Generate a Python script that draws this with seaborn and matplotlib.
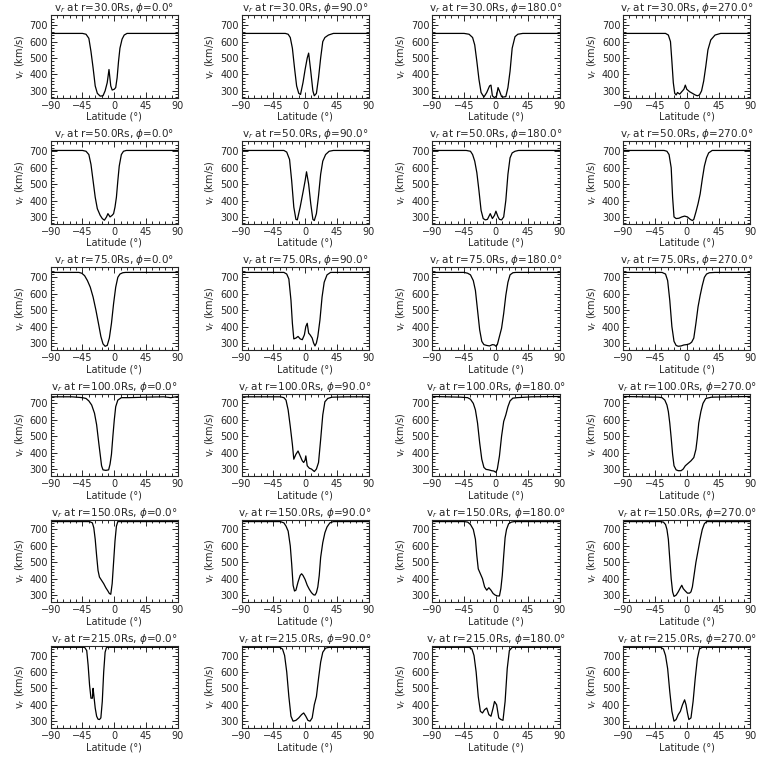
import matplotlib
matplotlib.use("Agg")
import matplotlib.pyplot as plt
import seaborn as sns
from matplotlib.ticker import MultipleLocator

# radial distances (rows) and longitudes (columns)
radii = [30.0, 50.0, 75.0, 100.0, 150.0, 215.0]
phis = [0.0, 90.0, 180.0, 270.0]

# r = 30 Rs
lat_r30_p0 = [-90, -45, -40, -36, -33, -30, -27, -24, -20, -16, -13, -10, -7.5, -5, -3, 0, 2, 4, 6, 8, 11, 14, 18, 90]
v_r30_p0 = [650, 650, 645, 620, 540, 440, 330, 285, 268, 270, 300, 350, 430, 330, 305, 310, 320, 380, 480, 560, 615, 640, 650, 650]
lat_r30_p90 = [-90, -28, -24, -21, -18, -15, -12, -9, -6.5, -3, 0, 3, 5, 8, 11, 13, 16, 19, 22, 25, 28, 33, 40, 90]
v_r30_p90 = [650, 650, 645, 625, 560, 440, 330, 285, 278, 350, 430, 500, 530, 420, 300, 270, 285, 380, 500, 600, 625, 640, 650, 650]
lat_r30_p180 = [-90, -45, -38, -33, -30, -27, -24, -21, -17, -13, -9, -7, -5, -2, 1, 3, 5, 8, 10, 14, 17, 20, 23, 27, 31, 38, 90]
v_r30_p180 = [650, 650, 645, 625, 580, 480, 370, 290, 262, 290, 330, 335, 270, 258, 270, 320, 300, 265, 262, 265, 320, 420, 560, 630, 645, 650, 650]
lat_r30_p270 = [-90, -30, -26, -23, -21, -19, -17, -15, -13, -10, -7, -4, -2, 0, 4, 8, 12, 15, 18, 21, 24, 27, 30, 34, 40, 48, 90]
v_r30_p270 = [650, 650, 640, 600, 480, 350, 285, 275, 290, 280, 295, 310, 335, 310, 295, 285, 275, 270, 275, 300, 360, 450, 550, 610, 640, 650, 650]

# r = 50 Rs
lat_r50_p0 = [-90, -45, -40, -36, -33, -30, -27, -24, -20, -17, -14, -11, -9, -6, -3, -1, 1, 3, 5, 7, 10, 13, 17, 90]
v_r50_p0 = [705, 705, 700, 680, 620, 520, 420, 350, 310, 290, 280, 300, 320, 300, 310, 320, 360, 420, 520, 610, 680, 700, 705, 705]
lat_r50_p90 = [-90, -30, -26, -22, -19, -16, -13, -11, -7, -3, 0, 2, 5, 8, 11, 13, 16, 19, 22, 25, 29, 34, 40, 90]
v_r50_p90 = [705, 705, 695, 650, 520, 360, 285, 282, 360, 450, 520, 575, 500, 380, 285, 278, 320, 430, 560, 640, 680, 700, 705, 705]
lat_r50_p180 = [-90, -42, -36, -33, -30, -27, -24, -21, -18, -15, -12, -8, -5, -2, 0, 3, 5, 8, 11, 14, 17, 20, 23, 27, 32, 90]
v_r50_p180 = [705, 705, 700, 680, 640, 570, 460, 340, 290, 282, 285, 320, 290, 310, 335, 300, 285, 282, 300, 400, 560, 660, 690, 700, 705, 705]
lat_r50_p270 = [-90, -32, -28, -25, -22, -20, -18, -15, -11, -7, -3, 1, 5, 8, 10, 13, 16, 19, 22, 25, 28, 31, 36, 90]
v_r50_p270 = [705, 705, 700, 680, 600, 420, 300, 290, 292, 300, 305, 300, 285, 278, 285, 330, 380, 440, 530, 610, 660, 690, 705, 705]

# r = 75 Rs
lat_r75_p0 = [-90, -50, -46, -42, -38, -34, -30, -26, -22, -19, -16, -13, -10, -7, -4, -1, 2, 5, 8, 12, 16, 90]
v_r75_p0 = [730, 730, 725, 710, 680, 640, 580, 500, 410, 340, 295, 280, 285, 330, 420, 540, 640, 700, 720, 728, 730, 730]
lat_r75_p90 = [-90, -30, -26, -23, -20, -18, -16, -13, -10, -7, -4, -1, 1, 3, 5, 7, 10, 12, 14, 16, 18, 21, 24, 27, 31, 36, 90]
v_r75_p90 = [730, 730, 720, 690, 560, 420, 325, 330, 340, 325, 320, 350, 400, 420, 360, 350, 330, 300, 282, 300, 340, 440, 580, 670, 715, 730, 730]
lat_r75_p180 = [-90, -45, -40, -36, -32, -29, -26, -23, -20, -17, -13, -9, -5, -2, 0, 2, 5, 8, 11, 14, 17, 20, 24, 28, 90]
v_r75_p180 = [730, 730, 725, 715, 680, 620, 500, 380, 310, 290, 285, 282, 290, 288, 280, 290, 340, 390, 480, 590, 670, 715, 728, 730, 730]
lat_r75_p270 = [-90, -35, -30, -27, -24, -21, -18, -15, -12, -8, -4, 0, 4, 7, 10, 13, 16, 19, 22, 25, 28, 32, 40, 90]
v_r75_p270 = [730, 730, 720, 680, 560, 400, 310, 285, 280, 282, 288, 290, 295, 305, 330, 420, 520, 590, 650, 700, 720, 728, 730, 730]

# r = 100 Rs
lat_r100_p0 = [-90, -60, -45, -40, -36, -32, -28, -25, -22, -20, -18, -16, -12, -8, -6, -4, -2, 0, 2, 5, 10, 20, 45, 70, 80, 90]
v_r100_p0 = [740, 740, 735, 730, 715, 690, 640, 570, 460, 390, 320, 295, 292, 295, 330, 390, 500, 600, 680, 720, 735, 735, 738, 740, 735, 742]
lat_r100_p90 = [-90, -35, -30, -27, -24, -21, -18, -16, -13, -10, -7, -4, -2, 0, 1, 3, 6, 9, 13, 16, 19, 22, 25, 28, 32, 38, 60, 90]
v_r100_p90 = [740, 740, 735, 720, 660, 560, 450, 360, 390, 410, 380, 350, 340, 355, 380, 320, 305, 300, 285, 300, 340, 480, 630, 710, 730, 738, 740, 740]
lat_r100_p180 = [-90, -50, -40, -36, -32, -29, -26, -23, -20, -17, -14, -10, -6, -3, 0, 2, 5, 8, 11, 14, 17, 20, 24, 30, 50, 90]
v_r100_p180 = [742, 738, 735, 725, 700, 660, 580, 460, 360, 310, 298, 295, 290, 288, 280, 300, 380, 500, 590, 630, 680, 715, 732, 735, 740, 742]
lat_r100_p270 = [-90, -40, -35, -31, -28, -26, -24, -22, -20, -18, -15, -12, -8, -5, -2, 2, 6, 10, 13, 15, 17, 20, 23, 27, 35, 60, 90]
v_r100_p270 = [742, 738, 735, 720, 690, 650, 580, 490, 390, 320, 295, 290, 290, 300, 320, 335, 350, 370, 420, 490, 580, 650, 700, 730, 738, 740, 742]

# r = 150 Rs
lat_r150_p0 = [-90, -35, -31, -29, -27, -25, -23, -21, -18, -15, -12, -9, -7, -5, -3, -1, 1, 3, 5, 90]
v_r150_p0 = [748, 748, 740, 710, 640, 540, 450, 410, 390, 370, 345, 325, 310, 305, 370, 500, 630, 720, 748, 748]
lat_r150_p90 = [-90, -35, -30, -27, -24, -21, -19, -17, -15, -13, -10, -7, -5, -3, 0, 3, 6, 9, 12, 14, 16, 18, 20, 22, 25, 28, 31, 35, 40, 90]
v_r150_p90 = [748, 748, 740, 720, 690, 600, 490, 360, 325, 330, 380, 420, 430, 420, 395, 360, 335, 315, 302, 300, 315, 350, 420, 530, 620, 680, 715, 740, 748, 748]
lat_r150_p180 = [-90, -45, -40, -36, -32, -29, -27, -25, -22, -19, -16, -13, -10, -7, -4, -1, 2, 5, 7, 9, 11, 13, 15, 18, 22, 26, 90]
v_r150_p180 = [748, 748, 745, 730, 700, 640, 540, 460, 430, 400, 350, 330, 345, 330, 310, 300, 295, 295, 340, 420, 540, 650, 700, 735, 745, 748, 748]
lat_r150_p270 = [-90, -38, -33, -30, -28, -26, -24, -22, -20, -18, -15, -12, -9, -7, -5, -2, 1, 4, 6, 8, 10, 13, 16, 19, 22, 25, 28, 90]
v_r150_p270 = [748, 748, 745, 730, 700, 640, 520, 400, 320, 292, 300, 320, 345, 360, 340, 325, 312, 312, 320, 350, 410, 500, 570, 640, 700, 735, 748, 748]

# r = 215 Rs
lat_r215_p0 = [-90, -42, -39, -37, -35, -33, -31, -30, -29, -27, -25, -23, -21, -19, -17, -15, -13, -11, 90]
v_r215_p0 = [750, 750, 730, 640, 520, 440, 440, 500, 460, 380, 330, 312, 310, 320, 420, 600, 720, 750, 750]
lat_r215_p90 = [-90, -36, -32, -29, -26, -23, -20, -17, -13, -9, -5, -2, 1, 4, 7, 10, 13, 16, 19, 22, 25, 29, 34, 90]
v_r215_p90 = [750, 750, 740, 700, 600, 450, 330, 300, 305, 320, 340, 350, 330, 305, 300, 320, 400, 450, 560, 660, 720, 745, 750, 750]
lat_r215_p180 = [-90, -38, -34, -31, -28, -25, -22, -19, -16, -13, -10, -7, -4, -2, 1, 4, 7, 10, 13, 16, 19, 23, 90]
v_r215_p180 = [750, 750, 740, 700, 600, 450, 360, 350, 370, 380, 340, 330, 380, 420, 400, 320, 310, 305, 420, 620, 730, 750, 750]
lat_r215_p270 = [-90, -37, -33, -30, -27, -24, -21, -18, -15, -12, -9, -6, -3, -1, 1, 3, 6, 9, 12, 15, 18, 22, 90]
v_r215_p270 = [750, 750, 740, 700, 620, 480, 360, 300, 310, 340, 360, 400, 430, 400, 350, 310, 320, 420, 560, 680, 740, 750, 750]

lats = [
    [lat_r30_p0, lat_r30_p90, lat_r30_p180, lat_r30_p270],
    [lat_r50_p0, lat_r50_p90, lat_r50_p180, lat_r50_p270],
    [lat_r75_p0, lat_r75_p90, lat_r75_p180, lat_r75_p270],
    [lat_r100_p0, lat_r100_p90, lat_r100_p180, lat_r100_p270],
    [lat_r150_p0, lat_r150_p90, lat_r150_p180, lat_r150_p270],
    [lat_r215_p0, lat_r215_p90, lat_r215_p180, lat_r215_p270],
]
vels = [
    [v_r30_p0, v_r30_p90, v_r30_p180, v_r30_p270],
    [v_r50_p0, v_r50_p90, v_r50_p180, v_r50_p270],
    [v_r75_p0, v_r75_p90, v_r75_p180, v_r75_p270],
    [v_r100_p0, v_r100_p90, v_r100_p180, v_r100_p270],
    [v_r150_p0, v_r150_p90, v_r150_p180, v_r150_p270],
    [v_r215_p0, v_r215_p90, v_r215_p180, v_r215_p270],
]

sns.set_style("ticks")
plt.rcParams['font.family'] = ['DejaVu Sans']
plt.rcParams['mathtext.fontset'] = 'dejavusans'

fig, axes = plt.subplots(6, 4, figsize=(7.68, 7.68), dpi=100)
fig.subplots_adjust(left=0.066, right=0.977, bottom=0.052, top=0.980, wspace=0.5, hspace=0.53)

for i, r in enumerate(radii):
    for j, phi in enumerate(phis):
        ax = axes[i][j]
        sns.lineplot(x=lats[i][j], y=vels[i][j], color='black', linewidth=0.9,
                     estimator=None, ax=ax)
        ax.set_xlim(-90, 90)
        ax.set_ylim(258, 760)
        ax.xaxis.set_major_locator(MultipleLocator(45))
        ax.xaxis.set_minor_locator(MultipleLocator(9))
        ax.yaxis.set_major_locator(MultipleLocator(100))
        ax.yaxis.set_minor_locator(MultipleLocator(20))
        ax.tick_params(which='both', direction='in', top=True, right=True,
                       labelsize=7, width=0.7, pad=2)
        ax.tick_params(which='major', length=4)
        ax.tick_params(which='minor', length=2)
        for s in ax.spines.values():
            s.set_linewidth(0.8)
        ax.set_title(r"v$_r$ at r=%.1fRs, $\phi$=%.1f°" % (r, phi), fontsize=7.5, pad=2)
        ax.set_xlabel("Latitude (°)", fontsize=7, labelpad=1)
        ax.set_ylabel(r"v$_r$ (km/s)", fontsize=7, labelpad=2)

fig.savefig("out.png", dpi=100)
